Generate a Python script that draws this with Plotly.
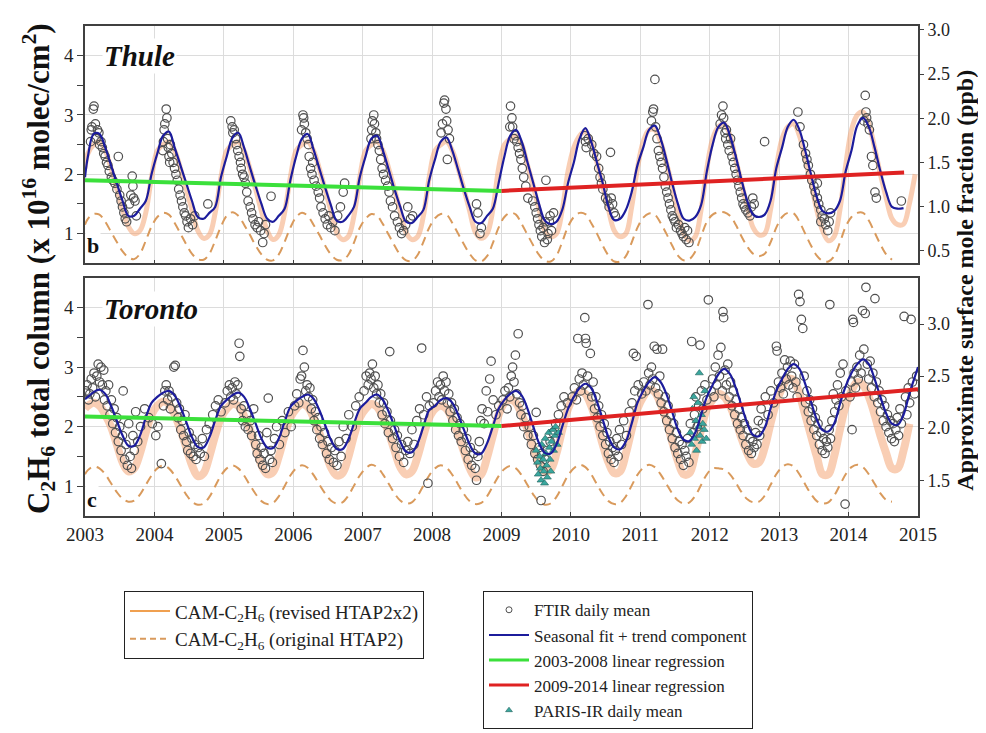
import plotly.graph_objects as go

# ---------------- data ----------------
YEARS = list(range(2003, 2015))
MONTH_FRAC = [(m - 0.5) / 12 for m in range(1, 13)]
X_TICKS = list(range(2003, 2016))

# Thule (left axis, x10^16 molec/cm2), monthly values per year
THU_FIT_START = 1.95
THU_FIT = [
    [2.3, 2.68, 2.68, 2.45, 2.15, 1.85, 1.55, 1.3, 1.3, 1.42, 1.55, 2.0],
    [2.35, 2.65, 2.72, 2.45, 2.15, 1.85, 1.55, 1.28, 1.25, 1.35, 1.45, 1.95],
    [2.3, 2.62, 2.7, 2.45, 2.12, 1.8, 1.5, 1.25, 1.2, 1.3, 1.42, 1.9],
    [2.3, 2.6, 2.68, 2.42, 2.1, 1.78, 1.48, 1.22, 1.2, 1.3, 1.45, 1.95],
    [2.3, 2.6, 2.65, 2.4, 2.08, 1.75, 1.45, 1.2, 1.18, 1.28, 1.4, 1.9],
    [2.25, 2.55, 2.62, 2.4, 2.08, 1.75, 1.45, 1.2, 1.18, 1.3, 1.42, 1.85],
    [2.3, 2.65, 2.75, 2.55, 2.2, 1.85, 1.5, 1.22, 1.16, 1.2, 1.4, 1.85],
    [2.2, 2.6, 2.78, 2.55, 2.2, 1.85, 1.45, 1.23, 1.25, 1.4, 1.7, 2.15],
    [2.45, 2.75, 2.82, 2.6, 2.25, 1.85, 1.5, 1.25, 1.22, 1.28, 1.48, 2.05],
    [2.5, 2.8, 2.87, 2.65, 2.3, 1.9, 1.55, 1.32, 1.28, 1.32, 1.55, 2.1],
    [2.45, 2.8, 2.92, 2.75, 2.4, 2.0, 1.62, 1.38, 1.34, 1.38, 1.55, 2.05],
    [2.4, 2.82, 2.95, 2.8, 2.45, 2.05, 1.7, 1.45, 1.42, 1.43, None, None],
]
THU_REV_START = 2.1
THU_REV = [
    [2.35, 2.5, 2.55, 2.4, 2.1, 1.75, 1.4, 1.12, 1.0, 1.05, 1.35, 1.95],
    [2.4, 2.5, 2.55, 2.4, 2.1, 1.75, 1.4, 1.05, 0.92, 0.98, 1.35, 1.95],
    [2.4, 2.5, 2.55, 2.4, 2.1, 1.75, 1.38, 1.05, 0.9, 0.98, 1.35, 1.95],
    [2.4, 2.5, 2.55, 2.4, 2.1, 1.75, 1.38, 1.02, 0.9, 0.95, 1.3, 1.95],
    [2.4, 2.5, 2.55, 2.4, 2.1, 1.75, 1.38, 1.02, 0.9, 0.95, 1.3, 1.95],
    [2.4, 2.5, 2.55, 2.4, 2.1, 1.75, 1.38, 1.02, 0.92, 1.0, 1.4, 2.1],
    [2.5, 2.6, 2.65, 2.5, 2.15, 1.8, 1.4, 1.05, 0.95, 1.0, 1.4, 2.05],
    [2.45, 2.65, 2.72, 2.55, 2.2, 1.8, 1.4, 1.05, 0.95, 1.0, 1.45, 2.1],
    [2.55, 2.75, 2.75, 2.55, 2.2, 1.8, 1.35, 1.0, 0.88, 0.95, 1.4, 2.1],
    [2.6, 2.8, 2.85, 2.65, 2.25, 1.85, 1.45, 1.1, 0.98, 1.0, 1.4, 2.1],
    [2.6, 2.8, 2.85, 2.65, 2.25, 1.85, 1.4, 1.05, 0.88, 0.95, 1.4, 2.15],
    [2.75, 3.0, 3.05, 2.85, 2.45, 2.0, 1.6, 1.25, 1.15, 1.16, 1.5, 2.0],
]
THU_ORIG_START = 1.15
THU_ORIG = [
    [1.25, 1.33, 1.32, 1.2, 1.03, 0.86, 0.7, 0.6, 0.57, 0.66, 0.88, 1.12],
    [1.28, 1.35, 1.32, 1.18, 1.0, 0.82, 0.66, 0.57, 0.56, 0.66, 0.88, 1.12],
    [1.3, 1.36, 1.3, 1.15, 0.98, 0.8, 0.65, 0.56, 0.55, 0.65, 0.86, 1.1],
    [1.28, 1.35, 1.3, 1.15, 0.98, 0.8, 0.65, 0.56, 0.55, 0.64, 0.85, 1.1],
    [1.25, 1.33, 1.3, 1.16, 0.98, 0.8, 0.64, 0.55, 0.54, 0.64, 0.86, 1.1],
    [1.26, 1.33, 1.32, 1.18, 1.0, 0.82, 0.66, 0.55, 0.53, 0.62, 0.84, 1.1],
    [1.28, 1.35, 1.32, 1.16, 0.98, 0.8, 0.64, 0.54, 0.53, 0.63, 0.86, 1.12],
    [1.28, 1.35, 1.33, 1.18, 1.0, 0.8, 0.63, 0.53, 0.53, 0.62, 0.85, 1.1],
    [1.27, 1.34, 1.32, 1.18, 1.0, 0.8, 0.63, 0.55, 0.57, 0.7, 0.95, 1.2],
    [1.32, 1.36, 1.36, 1.3, 1.15, 0.95, 0.78, 0.66, 0.62, 0.66, 0.85, 1.1],
    [1.28, 1.35, 1.34, 1.2, 1.0, 0.8, 0.63, 0.54, 0.53, 0.62, 0.85, 1.12],
    [1.28, 1.35, 1.35, 1.22, 1.02, 0.82, 0.65, 0.56, None, None, None, None],
]
THU_REG1_T = [2003.0, 2009.0]
THU_REG1_V = [1.9, 1.72]
THU_REG2_T = [2009.0, 2014.8]
THU_REG2_V = [1.72, 2.03]

THU_FTIR = {
    2003: [(0.08, 2.55), (0.09, 2.75), (0.1, 2.8), (0.12, 3.1), (0.13, 3.15), (0.15, 2.85), (0.16, 2.6), (0.18, 2.75),
           (0.2, 2.7), (0.21, 2.5), (0.23, 2.55), (0.25, 2.45), (0.27, 2.35), (0.29, 2.3), (0.31, 2.2), (0.33, 2.15),
           (0.35, 2.05), (0.38, 1.95), (0.4, 1.9), (0.43, 1.85), (0.46, 1.75), (0.48, 2.3), (0.5, 1.65), (0.52, 1.55),
           (0.54, 1.45), (0.56, 1.35), (0.58, 1.25), (0.6, 1.2), (0.64, 1.5), (0.66, 1.65), (0.68, 1.97), (0.69, 1.8),
           (0.7, 1.6), (0.72, 1.55), (0.74, 1.3)],
    2004: [(0.12, 2.4), (0.13, 2.55), (0.14, 2.75), (0.15, 2.85), (0.17, 3.1), (0.18, 2.95), (0.19, 2.6), (0.2, 2.45),
           (0.21, 2.3), (0.22, 2.2), (0.23, 2.5), (0.25, 2.35), (0.27, 2.2), (0.29, 2.1), (0.31, 2.0), (0.33, 1.9),
           (0.35, 1.75), (0.37, 1.65), (0.39, 1.55), (0.41, 1.45), (0.43, 1.35), (0.45, 1.3), (0.47, 1.2), (0.49, 1.1),
           (0.52, 1.25), (0.55, 1.15), (0.58, 1.3), (0.77, 1.5)],
    2005: [(0.1, 2.9), (0.12, 2.8), (0.13, 2.7), (0.15, 2.75), (0.17, 2.6), (0.18, 2.5), (0.2, 2.4), (0.22, 2.3),
           (0.24, 2.2), (0.25, 2.1), (0.27, 2.0), (0.29, 1.95), (0.31, 1.85), (0.33, 1.7), (0.35, 1.55), (0.38, 1.45),
           (0.4, 1.35), (0.42, 1.25), (0.45, 1.15), (0.48, 1.1), (0.5, 1.2), (0.53, 1.05), (0.56, 0.85), (0.58, 1.0),
           (0.6, 1.15), (0.68, 1.63)],
    2006: [(0.12, 2.75), (0.14, 3.0), (0.15, 2.95), (0.16, 2.85), (0.18, 2.7), (0.2, 2.6), (0.22, 2.5), (0.23, 2.3),
           (0.25, 2.1), (0.27, 2.0), (0.28, 2.2), (0.3, 1.9), (0.33, 1.8), (0.36, 1.7), (0.38, 1.6), (0.4, 1.45),
           (0.43, 1.35), (0.46, 1.25), (0.49, 1.15), (0.51, 1.3), (0.54, 1.1), (0.57, 1.2), (0.6, 1.05), (0.64, 1.3),
           (0.68, 1.45), (0.72, 1.7), (0.74, 1.85)],
    2007: [(0.12, 2.6), (0.13, 2.75), (0.14, 2.9), (0.16, 3.0), (0.17, 2.85), (0.19, 2.7), (0.2, 2.6), (0.22, 2.5),
           (0.24, 2.4), (0.26, 2.25), (0.28, 2.1), (0.3, 2.0), (0.33, 1.9), (0.36, 1.8), (0.38, 1.7), (0.4, 1.55),
           (0.43, 1.45), (0.46, 1.3), (0.5, 1.2), (0.53, 1.1), (0.56, 1.0), (0.59, 1.05), (0.62, 1.15), (0.65, 1.45),
           (0.69, 1.25), (0.72, 1.3)],
    2008: [(0.13, 2.7), (0.15, 2.85), (0.17, 3.2), (0.18, 3.25), (0.2, 3.1), (0.21, 2.9), (0.23, 2.75), (0.25, 2.6),
           (0.22, 2.25), (0.64, 1.5), (0.66, 1.35), (0.69, 1.0), (0.71, 1.1)],
    2009: [(0.12, 2.8), (0.13, 3.15), (0.15, 2.95), (0.16, 2.8), (0.18, 2.6), (0.2, 2.65), (0.22, 2.55), (0.24, 2.45),
           (0.26, 2.35), (0.28, 2.25), (0.3, 2.1), (0.32, 1.95), (0.35, 1.8), (0.38, 1.6), (0.45, 1.55), (0.48, 1.45),
           (0.5, 1.35), (0.52, 1.25), (0.54, 1.15), (0.56, 1.05), (0.58, 0.95), (0.6, 1.1), (0.62, 0.85), (0.63, 1.2),
           (0.64, 1.9), (0.66, 0.9), (0.67, 1.0), (0.69, 1.2), (0.7, 1.3), (0.72, 1.05), (0.75, 1.35)],
    2010: [(0.2, 2.65), (0.21, 2.55), (0.22, 2.45), (0.25, 2.6), (0.3, 2.5), (0.33, 2.35), (0.37, 2.3), (0.4, 2.1),
           (0.42, 1.95), (0.44, 1.85), (0.46, 1.75), (0.5, 1.6), (0.53, 1.55), (0.55, 1.45), (0.57, 2.37), (0.58, 1.6),
           (0.6, 1.5), (0.62, 1.35), (0.64, 1.3)],
    2011: [(0.16, 2.9), (0.18, 3.05), (0.19, 3.1), (0.21, 3.6), (0.22, 2.8), (0.24, 2.6), (0.26, 2.4), (0.28, 2.3),
           (0.3, 2.2), (0.32, 2.1), (0.34, 1.95), (0.36, 1.8), (0.38, 1.7), (0.4, 1.6), (0.42, 1.5), (0.44, 1.4),
           (0.46, 1.3), (0.48, 1.25), (0.5, 1.2), (0.52, 1.1), (0.55, 1.15), (0.58, 1.05), (0.6, 1.0), (0.62, 0.95),
           (0.64, 1.1), (0.66, 0.9), (0.7, 0.85), (0.68, 1.05)],
    2012: [(0.15, 2.85), (0.17, 3.0), (0.19, 3.15), (0.2, 2.95), (0.22, 2.7), (0.23, 2.6), (0.24, 2.75), (0.26, 2.5),
           (0.28, 2.4), (0.3, 2.6), (0.32, 2.3), (0.34, 2.2), (0.36, 2.1), (0.38, 2.0), (0.4, 1.9), (0.42, 1.8),
           (0.44, 1.7), (0.46, 1.6), (0.48, 1.5), (0.5, 1.45), (0.52, 1.4), (0.55, 1.35), (0.58, 1.3), (0.6, 1.45),
           (0.62, 1.6), (0.64, 1.5), (0.79, 2.55)],
    2013: [(0.27, 3.05), (0.3, 2.8), (0.35, 2.5), (0.38, 2.35), (0.4, 2.25), (0.42, 2.15), (0.45, 2.0), (0.47, 1.9),
           (0.5, 1.8), (0.52, 1.7), (0.55, 1.6), (0.57, 1.5), (0.6, 1.4), (0.62, 1.3), (0.65, 1.25), (0.67, 1.15),
           (0.7, 1.05), (0.72, 1.2), (0.74, 1.35), (0.6, 1.2), (0.55, 1.85)],
    2014: [(0.22, 2.9), (0.24, 3.33), (0.25, 3.05), (0.26, 2.95), (0.28, 2.85), (0.3, 2.75), (0.33, 2.3), (0.35, 2.15),
           (0.38, 1.7), (0.4, 1.6), (0.76, 1.55)],
}

# Toronto
TOR_FIT_START = 2.46
TOR_FIT_END = 3.0
TOR_FIT = [
    [2.5, 2.58, 2.62, 2.55, 2.35, 2.1, 1.85, 1.68, 1.68, 1.85, 2.15, 2.4],
    [2.5, 2.57, 2.6, 2.52, 2.33, 2.08, 1.82, 1.66, 1.65, 1.82, 2.1, 2.35],
    [2.45, 2.53, 2.57, 2.5, 2.3, 2.05, 1.8, 1.65, 1.64, 1.8, 2.08, 2.33],
    [2.43, 2.5, 2.54, 2.47, 2.28, 2.03, 1.78, 1.63, 1.62, 1.78, 2.05, 2.3],
    [2.4, 2.5, 2.54, 2.45, 2.25, 2.0, 1.75, 1.58, 1.57, 1.72, 2.0, 2.28],
    [2.35, 2.45, 2.48, 2.4, 2.2, 1.95, 1.7, 1.55, 1.55, 1.72, 2.0, 2.3],
    [2.45, 2.55, 2.6, 2.52, 2.3, 2.0, 1.72, 1.56, 1.55, 1.7, 2.0, 2.3],
    [2.5, 2.65, 2.72, 2.65, 2.42, 2.12, 1.82, 1.65, 1.62, 1.75, 2.05, 2.4],
    [2.6, 2.75, 2.83, 2.75, 2.55, 2.25, 1.95, 1.78, 1.76, 1.9, 2.2, 2.5],
    [2.7, 2.88, 2.97, 2.88, 2.65, 2.35, 2.05, 1.86, 1.84, 1.98, 2.3, 2.6],
    [2.8, 2.97, 3.05, 2.97, 2.72, 2.42, 2.12, 1.94, 1.92, 2.05, 2.38, 2.68],
    [2.9, 3.05, 3.13, 3.05, 2.8, 2.5, 2.22, 2.05, 2.03, 2.2, 2.55, 2.85],
]
TOR_REV_START = 2.3
TOR_REV = [
    [2.35, 2.4, 2.35, 2.2, 2.0, 1.7, 1.4, 1.25, 1.3, 1.55, 1.9, 2.2],
    [2.35, 2.42, 2.38, 2.2, 1.95, 1.65, 1.35, 1.17, 1.22, 1.5, 1.85, 2.15],
    [2.3, 2.38, 2.35, 2.18, 1.95, 1.65, 1.35, 1.2, 1.24, 1.5, 1.85, 2.15],
    [2.3, 2.38, 2.33, 2.15, 1.9, 1.6, 1.32, 1.18, 1.22, 1.48, 1.85, 2.15],
    [2.3, 2.38, 2.33, 2.15, 1.9, 1.6, 1.32, 1.2, 1.25, 1.5, 1.85, 2.15],
    [2.3, 2.35, 2.3, 2.12, 1.88, 1.58, 1.3, 1.15, 1.2, 1.48, 1.85, 2.2],
    [2.4, 2.45, 2.4, 2.2, 1.95, 1.65, 1.38, 1.25, 1.28, 1.55, 1.95, 2.3],
    [2.5, 2.6, 2.55, 2.35, 2.05, 1.7, 1.4, 1.22, 1.25, 1.55, 1.95, 2.3],
    [2.5, 2.62, 2.58, 2.38, 2.1, 1.75, 1.42, 1.2, 1.22, 1.55, 1.95, 2.3],
    [2.45, 2.55, 2.5, 2.35, 2.1, 1.8, 1.55, 1.38, 1.4, 1.65, 2.05, 2.4],
    [2.65, 2.8, 2.78, 2.55, 2.2, 1.85, 1.5, 1.2, 1.2, 1.5, 1.95, 2.35],
    [2.6, 2.75, 2.7, 2.5, 2.2, 1.85, 1.55, 1.3, 1.3, 1.6, 2.05, None],
]
TOR_ORIG_START = 1.2
TOR_ORIG = [
    [1.27, 1.33, 1.3, 1.2, 1.05, 0.9, 0.79, 0.74, 0.76, 0.86, 1.02, 1.18],
    [1.3, 1.35, 1.3, 1.18, 1.02, 0.86, 0.74, 0.69, 0.71, 0.82, 1.0, 1.18],
    [1.3, 1.35, 1.3, 1.18, 1.02, 0.87, 0.75, 0.7, 0.72, 0.83, 1.0, 1.18],
    [1.3, 1.35, 1.31, 1.19, 1.03, 0.88, 0.76, 0.71, 0.73, 0.84, 1.01, 1.18],
    [1.3, 1.36, 1.32, 1.2, 1.04, 0.88, 0.76, 0.71, 0.73, 0.84, 1.01, 1.18],
    [1.3, 1.35, 1.31, 1.19, 1.03, 0.87, 0.75, 0.7, 0.72, 0.83, 1.0, 1.17],
    [1.29, 1.34, 1.3, 1.18, 1.02, 0.86, 0.74, 0.69, 0.71, 0.82, 1.0, 1.18],
    [1.3, 1.36, 1.32, 1.2, 1.03, 0.87, 0.75, 0.7, 0.72, 0.83, 1.01, 1.19],
    [1.31, 1.36, 1.32, 1.2, 1.04, 0.88, 0.76, 0.71, 0.73, 0.84, 1.02, 1.2],
    [1.3, 1.3, 1.28, 1.2, 1.06, 0.9, 0.78, 0.73, 0.74, 0.84, 1.02, 1.2],
    [1.32, 1.37, 1.33, 1.2, 1.03, 0.87, 0.75, 0.71, 0.73, 0.84, 1.02, 1.2],
    [1.32, 1.36, 1.32, 1.2, 1.04, 0.88, 0.77, 0.74, None, None, None, None],
]
TOR_REG1_T = [2003.0, 2009.0]
TOR_REG1_V = [2.17, 2.01]
TOR_REG2_T = [2009.0, 2015.0]
TOR_REG2_V = [2.01, 2.63]

TOR_FTIR = {
    2003: [(0.01, 2.6), (0.03, 2.7), (0.05, 2.45), (0.07, 2.55), (0.09, 2.8), (0.11, 2.65), (0.13, 2.9), (0.15, 2.5),
           (0.17, 2.85), (0.19, 3.05), (0.21, 2.75), (0.23, 3.0), (0.25, 2.7), (0.27, 2.95), (0.28, 2.45), (0.3, 2.6),
           (0.32, 2.35), (0.34, 2.7), (0.36, 2.2), (0.38, 2.45), (0.4, 2.05), (0.42, 2.3), (0.44, 1.9), (0.46, 2.15),
           (0.48, 1.75), (0.5, 2.0), (0.52, 1.6), (0.54, 1.85), (0.55, 2.6), (0.57, 1.45), (0.59, 1.7), (0.61, 1.35),
           (0.63, 2.05), (0.65, 1.5), (0.67, 1.3), (0.69, 1.85), (0.71, 1.6), (0.73, 2.25), (0.76, 1.75), (0.8, 2.0),
           (0.86, 2.3), (0.92, 2.15), (0.97, 2.05)],
    2004: [(0.02, 1.85), (0.05, 2.0), (0.1, 1.38), (0.13, 2.35), (0.15, 2.6), (0.17, 2.7), (0.19, 2.45), (0.21, 2.6),
           (0.23, 2.3), (0.25, 2.5), (0.28, 3.0), (0.3, 3.03), (0.32, 2.4), (0.34, 2.15), (0.36, 2.3), (0.38, 1.95),
           (0.4, 2.1), (0.42, 1.85), (0.44, 2.2), (0.46, 1.75), (0.48, 1.6), (0.5, 1.9), (0.52, 1.55), (0.54, 1.8),
           (0.56, 1.5), (0.58, 1.7), (0.6, 1.45), (0.63, 1.65), (0.66, 1.55), (0.69, 1.8), (0.72, 1.5), (0.75, 1.95),
           (0.79, 2.05), (0.84, 2.2), (0.88, 2.35), (0.92, 2.45), (0.96, 2.25)],
    2005: [(0.02, 2.4), (0.05, 2.6), (0.08, 2.7), (0.1, 2.5), (0.12, 2.65), (0.14, 2.45), (0.16, 2.75), (0.18, 2.55),
           (0.2, 2.7), (0.22, 3.4), (0.23, 3.18), (0.25, 2.3), (0.27, 2.1), (0.29, 2.35), (0.31, 2.0), (0.33, 2.2),
           (0.35, 1.95), (0.38, 2.1), (0.4, 1.85), (0.43, 2.3), (0.46, 1.7), (0.48, 1.55), (0.5, 1.85), (0.52, 1.45),
           (0.54, 1.65), (0.56, 1.35), (0.58, 1.55), (0.6, 1.3), (0.62, 1.9), (0.64, 2.48), (0.66, 1.45), (0.68, 1.6),
           (0.7, 1.4), (0.73, 1.8), (0.76, 2.0), (0.8, 1.7), (0.84, 2.1), (0.88, 1.9), (0.93, 2.25), (0.97, 2.0)],
    2006: [(0.02, 2.35), (0.05, 2.55), (0.08, 2.4), (0.1, 2.8), (0.12, 2.85), (0.14, 3.28), (0.16, 3.0), (0.18, 2.6),
           (0.2, 2.7), (0.22, 2.5), (0.24, 2.65), (0.26, 2.3), (0.28, 2.45), (0.3, 2.1), (0.32, 2.25), (0.34, 1.95),
           (0.36, 2.15), (0.38, 1.8), (0.4, 2.0), (0.42, 1.7), (0.45, 1.9), (0.48, 1.55), (0.5, 1.75), (0.52, 1.45),
           (0.55, 1.65), (0.58, 1.4), (0.6, 1.6), (0.63, 1.35), (0.66, 1.75), (0.69, 1.5), (0.72, 2.0), (0.76, 1.8),
           (0.8, 2.2), (0.85, 2.0), (0.9, 2.35), (0.95, 2.5)],
    2007: [(0.02, 2.6), (0.05, 2.85), (0.08, 2.7), (0.1, 2.9), (0.12, 2.8), (0.14, 3.05), (0.16, 2.65), (0.18, 2.85),
           (0.2, 2.55), (0.22, 2.7), (0.24, 2.4), (0.26, 2.55), (0.28, 2.2), (0.3, 2.4), (0.32, 2.05), (0.35, 2.25),
           (0.37, 1.9), (0.39, 3.26), (0.4, 2.1), (0.43, 1.8), (0.46, 1.95), (0.48, 1.65), (0.5, 1.85), (0.53, 1.5),
           (0.56, 1.7), (0.59, 1.4), (0.62, 1.6), (0.65, 1.75), (0.68, 1.55), (0.71, 1.95), (0.74, 1.7), (0.78, 2.1),
           (0.82, 2.3), (0.85, 3.32), (0.88, 2.2), (0.92, 2.5), (0.94, 1.05), (0.96, 2.35)],
    2008: [(0.02, 2.4), (0.05, 2.6), (0.08, 2.75), (0.1, 2.5), (0.12, 2.7), (0.14, 2.45), (0.16, 2.85), (0.18, 2.6),
           (0.2, 2.75), (0.22, 2.4), (0.24, 2.55), (0.26, 2.25), (0.28, 2.4), (0.3, 2.1), (0.32, 2.3), (0.34, 1.95),
           (0.36, 2.15), (0.38, 1.85), (0.4, 2.05), (0.42, 1.75), (0.45, 1.95), (0.48, 1.6), (0.5, 1.8), (0.52, 1.45),
           (0.55, 1.65), (0.57, 1.35), (0.6, 1.55), (0.62, 1.3), (0.64, 1.1), (0.66, 1.5), (0.68, 1.75), (0.7, 2.1),
           (0.72, 2.3), (0.75, 2.05), (0.78, 2.6), (0.8, 2.25), (0.83, 2.8), (0.85, 3.1), (0.88, 2.45), (0.92, 2.2),
           (0.96, 2.35)],
    2009: [(0.02, 2.45), (0.05, 2.6), (0.08, 2.3), (0.1, 2.65), (0.12, 2.5), (0.14, 2.85), (0.16, 3.0), (0.18, 2.75),
           (0.2, 3.2), (0.22, 2.55), (0.24, 3.56), (0.26, 2.4), (0.28, 2.2), (0.3, 2.35), (0.32, 2.0), (0.35, 2.15),
           (0.38, 1.85), (0.4, 2.0), (0.43, 1.7), (0.46, 1.85), (0.48, 1.55), (0.5, 2.24), (0.52, 1.45), (0.54, 1.65),
           (0.56, 1.35), (0.57, 0.76), (0.58, 1.55), (0.6, 1.25), (0.63, 1.45), (0.66, 1.6), (0.7, 1.75), (0.74, 1.9),
           (0.78, 2.05), (0.82, 2.2), (0.86, 2.35), (0.9, 2.5), (0.95, 2.4)],
    2010: [(0.02, 2.5), (0.05, 2.65), (0.08, 2.45), (0.1, 3.48), (0.12, 2.8), (0.14, 2.6), (0.16, 2.9), (0.18, 2.7),
           (0.2, 3.83), (0.21, 3.48), (0.22, 3.4), (0.24, 2.85), (0.26, 2.6), (0.28, 3.23), (0.3, 2.5), (0.32, 2.75),
           (0.34, 2.3), (0.36, 2.5), (0.38, 2.15), (0.4, 2.35), (0.42, 2.0), (0.44, 2.2), (0.46, 1.85), (0.48, 2.05),
           (0.5, 1.7), (0.52, 1.9), (0.54, 1.55), (0.56, 1.75), (0.58, 1.45), (0.6, 1.65), (0.62, 1.4), (0.64, 1.6),
           (0.66, 1.8), (0.68, 1.5), (0.7, 1.95), (0.73, 1.7), (0.76, 2.1), (0.8, 1.85), (0.84, 2.25), (0.88, 2.4),
           (0.9, 3.23), (0.92, 2.6), (0.94, 3.18), (0.97, 2.7)],
    2011: [(0.02, 2.55), (0.05, 2.75), (0.08, 2.6), (0.11, 4.05), (0.12, 2.9), (0.14, 2.7), (0.16, 3.0), (0.18, 2.8),
           (0.2, 3.35), (0.22, 2.65), (0.24, 3.3), (0.26, 2.55), (0.28, 2.85), (0.3, 2.4), (0.32, 3.3), (0.34, 2.25),
           (0.36, 2.5), (0.38, 2.1), (0.4, 2.35), (0.42, 1.95), (0.44, 2.2), (0.46, 1.8), (0.48, 2.05), (0.5, 1.65),
           (0.52, 1.9), (0.54, 1.55), (0.56, 1.75), (0.58, 1.45), (0.6, 1.7), (0.62, 1.35), (0.64, 1.6), (0.66, 1.5),
           (0.68, 1.8), (0.7, 1.4), (0.72, 2.05), (0.74, 3.43), (0.76, 1.9), (0.78, 2.2), (0.8, 2.5), (0.82, 2.0),
           (0.84, 2.35), (0.86, 3.37), (0.88, 2.6), (0.9, 2.3), (0.93, 2.7), (0.96, 2.45), (0.98, 4.13)],
    2012: [(0.02, 2.6), (0.04, 2.8), (0.06, 2.5), (0.08, 3.0), (0.1, 2.7), (0.12, 3.2), (0.14, 2.85), (0.16, 3.33),
           (0.18, 2.6), (0.19, 3.93), (0.2, 3.83), (0.22, 2.95), (0.24, 2.7), (0.26, 3.05), (0.28, 2.5), (0.3, 2.75),
           (0.32, 2.35), (0.34, 2.6), (0.36, 2.2), (0.38, 2.45), (0.4, 2.05), (0.42, 2.3), (0.44, 1.95), (0.46, 2.15),
           (0.48, 1.85), (0.5, 2.05), (0.52, 1.7), (0.54, 1.95), (0.56, 1.6), (0.58, 1.8), (0.6, 1.55), (0.62, 1.75),
           (0.64, 1.65), (0.66, 1.9), (0.68, 1.7), (0.7, 2.1), (0.72, 1.85), (0.74, 2.3), (0.76, 2.05), (0.8, 2.5),
           (0.84, 2.2), (0.88, 2.6), (0.92, 2.4), (0.96, 3.35), (0.97, 3.27), (0.99, 2.75)],
    2013: [(0.02, 2.65), (0.04, 2.9), (0.06, 2.55), (0.08, 3.12), (0.1, 2.8), (0.12, 3.0), (0.14, 2.7), (0.16, 3.1),
           (0.18, 2.85), (0.2, 2.65), (0.22, 3.05), (0.24, 2.75), (0.28, 4.22), (0.3, 4.1), (0.32, 3.8), (0.34, 3.65),
           (0.26, 2.5), (0.36, 2.85), (0.38, 2.4), (0.4, 2.6), (0.42, 2.25), (0.44, 2.45), (0.46, 2.1), (0.48, 2.3),
           (0.5, 1.95), (0.52, 2.15), (0.54, 1.85), (0.56, 2.05), (0.58, 1.7), (0.6, 1.9), (0.62, 1.6), (0.64, 1.8),
           (0.66, 1.55), (0.68, 1.75), (0.7, 1.65), (0.72, 1.95), (0.73, 4.05), (0.74, 1.8), (0.76, 2.1), (0.78, 2.55),
           (0.8, 2.25), (0.82, 2.45), (0.84, 2.7), (0.86, 2.35), (0.88, 2.9), (0.9, 2.5), (0.92, 3.05), (0.95, 0.7),
           (0.96, 2.6)],
    2014: [(0.02, 2.5), (0.04, 2.75), (0.05, 1.95), (0.06, 3.8), (0.07, 3.75), (0.08, 2.9), (0.1, 2.65), (0.12, 3.0),
           (0.14, 2.8), (0.16, 3.2), (0.18, 2.9), (0.2, 3.95), (0.22, 3.3), (0.24, 3.9), (0.25, 4.34), (0.27, 3.05),
           (0.29, 2.8), (0.31, 3.1), (0.33, 2.65), (0.35, 2.9), (0.38, 4.15), (0.37, 2.5), (0.4, 2.75), (0.42, 2.4),
           (0.44, 2.6), (0.46, 2.25), (0.48, 2.45), (0.5, 2.1), (0.52, 2.35), (0.54, 2.0), (0.56, 2.2), (0.58, 1.9),
           (0.6, 2.1), (0.62, 1.8), (0.64, 2.05), (0.66, 1.75), (0.68, 1.95), (0.7, 2.15), (0.72, 1.85), (0.74, 2.3),
           (0.76, 2.05), (0.8, 3.85), (0.82, 2.5), (0.84, 2.2), (0.86, 2.65), (0.88, 2.4), (0.9, 3.8), (0.92, 2.75),
           (0.95, 2.55), (0.98, 2.85)],
}

PARIS_T = [2009.5, 2009.52, 2009.53, 2009.55, 2009.56, 2009.57, 2009.58, 2009.6, 2009.61, 2009.62, 2009.63,
           2009.64, 2009.65, 2009.66, 2009.68, 2009.69, 2009.7, 2009.71, 2009.72, 2009.74, 2009.75, 2009.77,
           2009.78, 2009.8, 2009.82,
           2011.72, 2011.74, 2011.75, 2011.77, 2011.78, 2011.8, 2011.81, 2011.83, 2011.84, 2011.85, 2011.86,
           2011.88, 2011.89, 2011.9, 2011.92, 2011.93, 2011.95]
PARIS_V = [1.6, 1.4, 1.2, 1.5, 1.3, 1.1, 1.7, 1.45, 1.25, 1.05, 1.8,
           1.55, 1.35, 1.15, 1.9, 1.65, 1.45, 1.25, 1.75, 1.95, 1.6, 1.85,
           2.0, 1.7, 1.9,
           1.9, 1.7, 2.3, 2.5, 1.8, 2.1, 1.6, 2.4, 2.0, 2.9, 1.85,
           2.2, 1.75, 2.05, 1.95, 2.6, 1.8]

LEFT_TICKS = [1, 2, 3, 4]
LEFT_MINOR = [1.5, 2.5, 3.5]
RIGHT_TICKS_TOP = [0.5, 1.0, 1.5, 2.0, 2.5, 3.0]
RIGHT_TICKS_BOT = [1.5, 2.0, 2.5, 3.0]

# ---------------- helpers ----------------
def monthly(start_v, rows, end_v=None):
    t, v = [2003.0], [start_v]
    for yr, row in zip(YEARS, rows):
        for f, val in zip(MONTH_FRAC, row):
            t.append(yr + f)
            v.append(val)
    if end_v is not None:
        t.append(2015.0)
        v.append(end_v)
    return t, v


def flat(points):
    t, v = [], []
    for yr in sorted(points):
        for f, val in points[yr]:
            t.append(yr + f)
            v.append(val)
    return t, v


SERIF = "Liberation Serif, Times New Roman, serif"
ORANGE_BAND = "rgba(244,158,105,0.5)"
ORANGE_DASH = "#d99a5c"
BLUE = "#1c1c9c"
GREEN = "#3be03b"
RED = "#df2222"
CIRCLE = "#505050"
TEAL = "#3aa79e"

fig = go.Figure()


def panel(xa, ya, fit, rev, orig, ftir, reg1, reg2, band_w, paris=None):
    t, v = rev
    fig.add_trace(go.Scatter(x=t, y=v, mode="lines", line=dict(color=ORANGE_BAND, width=band_w, shape="spline"),
                             xaxis=xa, yaxis=ya, showlegend=False, hoverinfo="skip"))
    t, v = orig
    fig.add_trace(go.Scatter(x=t, y=v, mode="lines",
                             line=dict(color=ORANGE_DASH, width=2, dash="9px,6px", shape="spline"),
                             xaxis=xa, yaxis=ya, showlegend=False, hoverinfo="skip"))
    t, v = ftir
    fig.add_trace(go.Scatter(x=t, y=v, mode="markers",
                             marker=dict(symbol="circle-open", size=8.5, color=CIRCLE, line=dict(width=1.2)),
                             xaxis=xa, yaxis=ya, showlegend=False))
    if paris is not None:
        fig.add_trace(go.Scatter(x=paris[0], y=paris[1], mode="markers",
                                 marker=dict(symbol="triangle-up", size=7, color=TEAL,
                                             line=dict(width=0.6, color="#1f5f5a")),
                                 xaxis=xa, yaxis=ya, showlegend=False))
    t, v = fit
    fig.add_trace(go.Scatter(x=t, y=v, mode="lines", line=dict(color=BLUE, width=2.2, shape="spline"),
                             xaxis=xa, yaxis=ya, showlegend=False))
    fig.add_trace(go.Scatter(x=reg1[0], y=reg1[1], mode="lines", line=dict(color=GREEN, width=4),
                             xaxis=xa, yaxis=ya, showlegend=False))
    fig.add_trace(go.Scatter(x=reg2[0], y=reg2[1], mode="lines", line=dict(color=RED, width=4),
                             xaxis=xa, yaxis=ya, showlegend=False))


panel("x2", "y", monthly(THU_FIT_START, THU_FIT), monthly(THU_REV_START, THU_REV),
      monthly(THU_ORIG_START, THU_ORIG), flat(THU_FTIR),
      (THU_REG1_T, THU_REG1_V), (THU_REG2_T, THU_REG2_V), band_w=5)
panel("x", "y3", monthly(TOR_FIT_START, TOR_FIT, TOR_FIT_END), monthly(TOR_REV_START, TOR_REV),
      monthly(TOR_ORIG_START, TOR_ORIG), flat(TOR_FTIR),
      (TOR_REG1_T, TOR_REG1_V), (TOR_REG2_T, TOR_REG2_V), band_w=8, paris=(PARIS_T, PARIS_V))

# dummy traces to activate right axes
fig.add_trace(go.Scatter(x=[None], y=[None], xaxis="x2", yaxis="y2", showlegend=False, hoverinfo="skip"))
fig.add_trace(go.Scatter(x=[None], y=[None], xaxis="x", yaxis="y4", showlegend=False, hoverinfo="skip"))

# legend entries
def leg(name, legend, **kw):
    fig.add_trace(go.Scatter(x=[None], y=[None], name=name, legend=legend, xaxis="x", yaxis="y3", **kw))

leg("CAM-C<sub>2</sub>H<sub>6</sub> (revised HTAP2x2)", "legend", mode="lines",
    line=dict(color="#f0a050", width=2))
leg("CAM-C<sub>2</sub>H<sub>6</sub> (original HTAP2)", "legend", mode="lines",
    line=dict(color=ORANGE_DASH, width=2, dash="6px,4px"))
leg("FTIR daily mean", "legend2", mode="markers",
    marker=dict(symbol="circle-open", size=6, color=CIRCLE, line=dict(width=1)))
leg("Seasonal fit + trend component", "legend2", mode="lines", line=dict(color=BLUE, width=2))
leg("2003-2008 linear regression", "legend2", mode="lines", line=dict(color=GREEN, width=3))
leg("2009-2014 linear regression", "legend2", mode="lines", line=dict(color=RED, width=3))
leg("PARIS-IR daily mean", "legend2", mode="markers",
    marker=dict(symbol="triangle-up", size=6, color=TEAL, line=dict(width=0.6, color="#1f5f5a")))

# ---------------- layout ----------------
W, H = 986, 733
ML, MR, MT, MB = 77, 76, 16, 209
PW = W - ML - MR
PH = H - MT - MB
TOP_DOM = [(H - 262 - MB) / PH, 1.0]
BOT_DOM = [0.0, (H - 277 - MB) / PH]

axis_common = dict(showline=True, linecolor="#404040", linewidth=1.5, mirror=True,
                   showgrid=True, gridcolor="#dcdcdc", gridwidth=1, zeroline=False,
                   tickfont=dict(family=SERIF, size=19, color="#222"))

xcommon = dict(axis_common, range=[2003, 2015], tickmode="array", tickvals=X_TICKS,
               ticktext=[str(y) for y in X_TICKS], ticks="inside", ticklen=4, tickcolor="#404040")

ycommon = dict(axis_common, range=[0.5, 4.5], tickmode="array", tickvals=LEFT_TICKS,
               ticks="outside", ticklen=6, tickcolor="#404040",
               tickfont=dict(family=SERIF, size=19, color="#222"),
               minor=dict(tickmode="array", tickvals=LEFT_MINOR, ticks="outside", ticklen=6,
                          tickcolor="#404040", showgrid=False))

rcommon = dict(side="right", showgrid=False, zeroline=False, showline=False, tickmode="array",
               tickformat=".1f", ticks="outside", ticklen=5, tickcolor="#404040",
               tickfont=dict(family=SERIF, size=18, color="#222"))

fig.update_layout(
    width=W, height=H,
    margin=dict(l=ML, r=MR, t=MT, b=MB),
    paper_bgcolor="white", plot_bgcolor="white",
    font=dict(family=SERIF, size=15, color="#111"),
    xaxis=dict(xcommon, domain=[0, 1], anchor="y3"),
    xaxis2=dict(xcommon, domain=[0, 1], anchor="y", showticklabels=False, matches="x"),
    yaxis=dict(ycommon, domain=TOP_DOM, anchor="x2"),
    yaxis2=dict(rcommon, overlaying="y", anchor="x2", range=[0.358, 3.044], tickvals=RIGHT_TICKS_TOP),
    yaxis3=dict(ycommon, domain=BOT_DOM, anchor="x"),
    yaxis4=dict(rcommon, overlaying="y3", anchor="x", range=[1.157, 3.444], tickvals=RIGHT_TICKS_BOT),
    legend=dict(x=(116 - ML) / PW, y=-(602 - 524) / PH, xanchor="left", yanchor="top",
                bgcolor="white", bordercolor="#222", borderwidth=1,
                font=dict(family=SERIF, size=19, color="#222"), tracegroupgap=2, itemwidth=40),
    legend2=dict(x=(475 - ML) / PW, y=-(602 - 524) / PH, xanchor="left", yanchor="top",
                 bgcolor="white", bordercolor="#222", borderwidth=1,
                 font=dict(family=SERIF, size=17, color="#222"), tracegroupgap=0, itemwidth=40),
    showlegend=True,
)

ann_font = dict(family=SERIF, size=29, color="#111")
lab_font = dict(family=SERIF, size=22, color="#111")
fig.add_annotation(text="<b><i>Thule</i></b>", xref="x2 domain", yref="y domain", x=0.02, y=0.874,
                   xanchor="left", yanchor="middle", showarrow=False, font=ann_font, bgcolor="white")
fig.add_annotation(text="<b>b</b>", xref="x2 domain", yref="y domain", x=0.0, y=0.075,
                   xanchor="left", yanchor="middle", showarrow=False, font=lab_font, bgcolor="white")
fig.add_annotation(text="<b><i>Toronto</i></b>", xref="x domain", yref="y3 domain", x=0.02, y=0.87,
                   xanchor="left", yanchor="middle", showarrow=False, font=ann_font, bgcolor="white")
fig.add_annotation(text="<b>c</b>", xref="x domain", yref="y3 domain", x=0.0, y=0.07,
                   xanchor="left", yanchor="middle", showarrow=False, font=lab_font, bgcolor="white")

fig.add_annotation(text="<b>C<sub>2</sub>H<sub>6</sub> total column (x 10<sup>16</sup> molec/cm<sup>2</sup>)</b>",
                   xref="paper", yref="paper", x=(31 - ML) / PW, y=(H - MB - 268) / PH,
                   xanchor="center", yanchor="middle", textangle=-90, showarrow=False,
                   font=dict(family=SERIF, size=31, color="#111"))
fig.add_annotation(text="<b>Approximate surface mole fraction (ppb)</b>",
                   xref="paper", yref="paper", x=(957 - ML) / PW, y=(H - MB - 280) / PH,
                   xanchor="center", yanchor="middle", textangle=-90, showarrow=False,
                   font=dict(family=SERIF, size=24, color="#111"))

fig.write_html("out.html")
